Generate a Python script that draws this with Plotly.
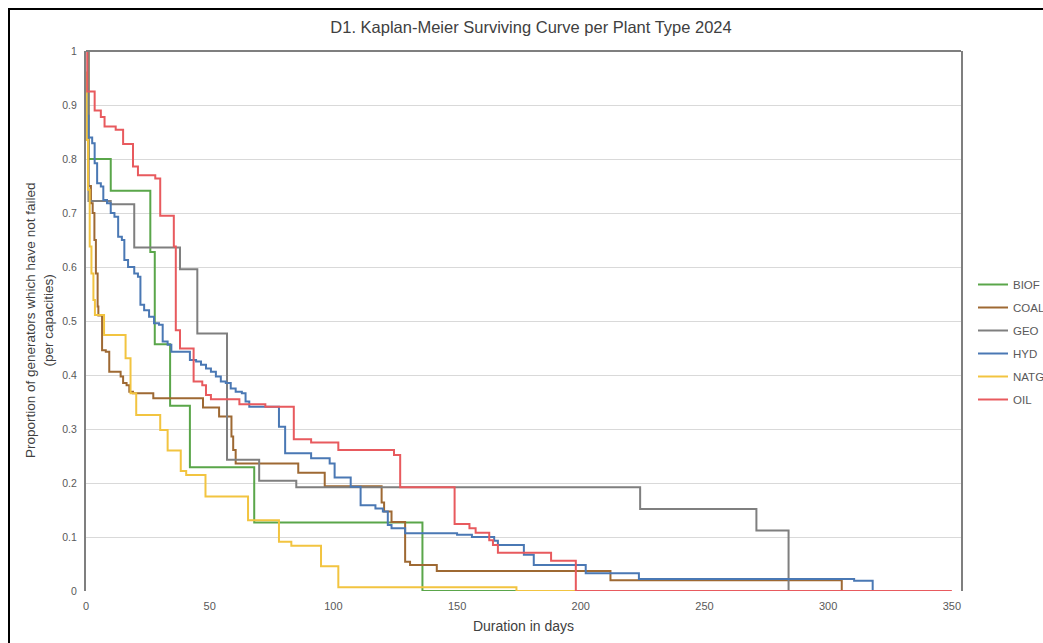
import plotly.graph_objects as go

# Kaplan-Meier steps: (days, proportion surviving from that day on)
biof_t = [0, 1, 10, 26, 27.8, 34, 42, 68, 136, 175]
biof_s = [1.0, 0.8, 0.741, 0.628, 0.457, 0.343, 0.229, 0.127, 0.0, 0.0]

coal_t = [0, 1, 2, 2.7, 3.4, 4, 4.7, 5, 6.5, 8, 9.4, 14, 15, 16.4, 17.5, 19, 27.2, 47.3,
          53.8, 58.8, 59.5, 60.5, 85.8, 96.5, 119.5, 120.5, 123.5, 129, 131, 141.8, 212, 305.5]
coal_s = [1.0, 0.75, 0.718, 0.7, 0.65, 0.588, 0.527, 0.51, 0.446, 0.443, 0.406, 0.397, 0.385,
          0.381, 0.369, 0.366, 0.357, 0.34, 0.323, 0.286, 0.261, 0.236, 0.219, 0.194, 0.164,
          0.147, 0.128, 0.054, 0.048, 0.037, 0.02, 0.0]

geo_t = [0, 1, 10, 19.5, 38, 45, 57, 70, 85, 224, 271, 284]
geo_s = [1.0, 0.722, 0.716, 0.636, 0.596, 0.477, 0.243, 0.204, 0.192, 0.152, 0.112, 0.0]

hyd_t = [0, 0.5, 1, 2.5, 3.5, 4.5, 6, 7, 8.5, 10, 11.5, 13, 14.5, 15.5, 17, 19.5, 21, 22,
         23.5, 25.5, 27.5, 29.5, 31, 33, 34.5, 42, 44.5, 46.5, 48.5, 50.5, 52.5, 54.5, 56.5,
         58.5, 60.5, 63, 64.5, 66, 78, 80.5, 91, 98.5, 100.5, 107, 111, 117, 120, 122, 123.5,
         129, 150, 156, 165, 166.5, 177, 181, 202, 223.5, 310.5, 318]
hyd_s = [0.93, 0.88, 0.84, 0.829, 0.792, 0.755, 0.749, 0.724, 0.718, 0.7, 0.693, 0.656, 0.65,
         0.613, 0.6, 0.588, 0.582, 0.53, 0.52, 0.508, 0.496, 0.493, 0.462, 0.456, 0.443, 0.428,
         0.425, 0.419, 0.412, 0.406, 0.397, 0.388, 0.385, 0.375, 0.369, 0.366, 0.351, 0.341,
         0.304, 0.255, 0.246, 0.236, 0.21, 0.193, 0.159, 0.153, 0.147, 0.122, 0.116, 0.107,
         0.104, 0.1, 0.093, 0.085, 0.067, 0.048, 0.033, 0.022, 0.019, 0.0]

natg_t = [0, 0.3, 0.8, 1.5, 2.2, 3, 3.6, 7.3, 16, 18, 20.3, 30, 33, 38.3, 40.5, 48.3, 65.5,
          78, 83, 95, 102, 174, 200]
natg_s = [0.96, 0.835, 0.743, 0.638, 0.588, 0.539, 0.511, 0.474, 0.431, 0.366, 0.326, 0.298,
          0.26, 0.222, 0.215, 0.175, 0.131, 0.091, 0.084, 0.046, 0.007, 0.0, 0.0]

oil_t = [0, 0.5, 3.5, 6, 7.5, 12, 15, 19, 21, 28, 30, 35.5, 36.3, 38, 43.5, 47, 48.5, 50.5,
         62, 72.5, 84, 91, 102, 124.5, 127, 149, 155, 157.5, 163, 164.5, 166.5, 188, 198, 350]
oil_s = [1.0, 0.925, 0.89, 0.878, 0.86, 0.854, 0.828, 0.786, 0.77, 0.764, 0.695, 0.638, 0.483,
         0.449, 0.388, 0.381, 0.363, 0.355, 0.346, 0.341, 0.281, 0.275, 0.261, 0.252, 0.192,
         0.124, 0.116, 0.108, 0.094, 0.085, 0.071, 0.056, 0.0, 0.0]

series = [
    ("BIOF", biof_t, biof_s, "#5AA64A"),
    ("COAL", coal_t, coal_s, "#9E6933"),
    ("GEO", geo_t, geo_s, "#7F7F7F"),
    ("HYD", hyd_t, hyd_s, "#4A78B4"),
    ("NATG", natg_t, natg_s, "#F2C440"),
    ("OIL", oil_t, oil_s, "#E85A5E"),
]

W, H = 1043, 643
L, R, T, B = 86, 961, 51, 591  # plot area in pixels


def px(x):
    return (x - L) / (R - L)


def py(y):
    return (B - y) / (B - T)


arial = "Liberation Sans, Arial, sans-serif"

fig = go.Figure()
for name, t, s, col in series:
    fig.add_trace(go.Scatter(x=t, y=s, mode="lines", name=name, legendgroup=name,
                             line=dict(color=col, width=2, shape="hv")))

fig.update_layout(
    width=W, height=H,
    margin=dict(l=L, r=W - R, t=T, b=H - B, autoexpand=False),
    paper_bgcolor="white", plot_bgcolor="white",
    title=dict(text="D1. Kaplan-Meier Surviving Curve per Plant Type 2024",
               x=531 / W, xanchor="center", y=1 - 27 / H, yanchor="middle",
               font=dict(family=arial, size=16.5, color="#404040")),
    xaxis=dict(range=[0, 353.7], tickvals=[0, 50, 100, 150, 200, 250, 300, 350],
               showgrid=False, zeroline=False, showline=False, ticks="",
               ticklabelstandoff=7,
               tickfont=dict(family=arial, size=11, color="#595959"),
               title=dict(text="Duration in days", standoff=10,
                          font=dict(family=arial, size=14, color="#404040"))),
    yaxis=dict(range=[0, 1], dtick=0.1, showgrid=True, gridcolor="#D9D9D9", gridwidth=1,
               zeroline=False, showline=True, mirror=True, linecolor="#7F7F7F", linewidth=2,
               ticks="", ticklabelstandoff=5,
               tickfont=dict(family=arial, size=10.5, color="#595959")),
    legend=dict(x=px(973), xanchor="left", y=py(270), yanchor="top",
                font=dict(family=arial, size=11.5, color="#595959"),
                tracegroupgap=4, bgcolor="rgba(0,0,0,0)"),
    shapes=[
        # top border of the plot area
        dict(type="line", xref="paper", yref="paper", x0=0, x1=1, y0=1, y1=1,
             line=dict(color="#7F7F7F", width=2)),
        # outer chart frame (runs past the right and bottom edges)
        dict(type="rect", xref="paper", yref="paper", x0=px(9), x1=px(1100),
             y0=py(700), y1=py(9), line=dict(color="black", width=2)),
    ],
    annotations=[
        dict(text="Proportion of generators which have not failed<br>(per capacities)",
             xref="paper", yref="paper", x=px(39), y=py(321), xanchor="center",
             yanchor="middle", textangle=-90, showarrow=False,
             font=dict(family=arial, size=13.5, color="#404040")),
    ],
)

# drop the default body margin so the figure sits at the page's top-left corner
fig.write_html("out.html", config={"displayModeBar": False},
               post_script="document.body.style.margin='0';document.body.style.overflow='hidden';")
